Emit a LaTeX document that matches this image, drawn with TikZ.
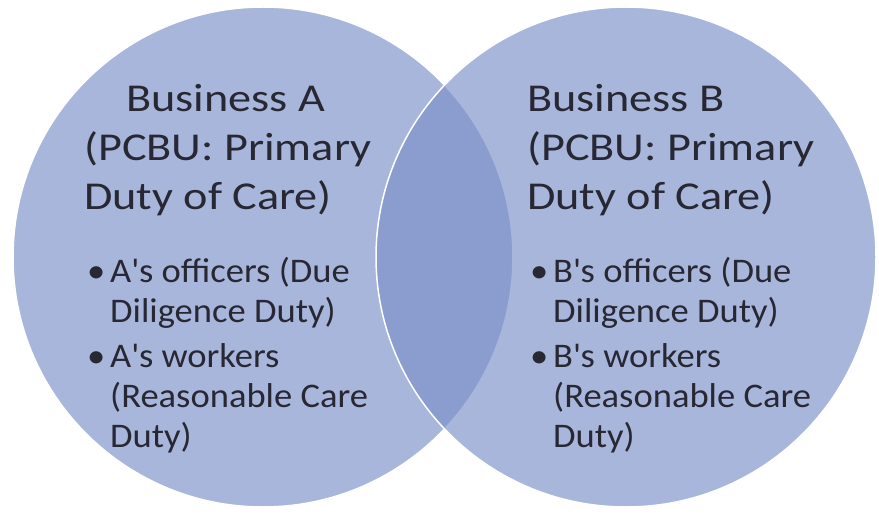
\documentclass[tikz,border=0pt]{standalone}
\usepackage{fontspec}
\setmainfont{Carlito}
\newfontfamily\headfont[FakeStretch=1.17]{Carlito}
\newfontfamily\dutyfont[FakeStretch=1.06]{Carlito}
\usetikzlibrary{positioning}
\definecolor{vennblue}{RGB}{124,143,201}
\definecolor{venntext}{RGB}{40,40,52}
\newcommand{\bul}{\makebox[23pt][l]{\textbullet}}
\newcommand{\ind}{\hspace*{23pt}}

\begin{document}
\begin{tikzpicture}[x=1pt, y=1pt]
    \tikzstyle{venn} = [circle, minimum size=500pt, inner sep=0pt, fill=vennblue, fill opacity=0.65, draw=white, line width=1.5pt]
    \tikzstyle{heading} = [anchor=base west, align=left, inner sep=0pt, text=venntext, font=\headfont\fontsize{39.5}{49.5}\selectfont]
    \tikzstyle{duties} = [anchor=base west, align=left, inner sep=0pt, text=venntext, font=\dutyfont\fontsize{34.5}{40}\selectfont]

    % Canvas
    \fill [white] (0,0) rectangle (879,515);
    \useasboundingbox (0,0) rectangle (879,515);

    % The two businesses
    \node [venn] (busA) at (263,258) {};
    \node [venn] (busB) at (626,258) {};

    % Headings (base sits on the last line)
    \node [heading] (headA) at (84,305) {\hspace*{42pt}Business A\\(PCBU: Primary\\Duty of Care)};
    \node [heading] (headB) at (527,305) {Business B\\(PCBU: Primary\\Duty of Care)};

    % Duties of officers and workers
    \node [duties] (dutyA) at (87,68) {\bul A\textquotesingle s officers (Due\\\ind Diligence Duty)\\[5pt]\bul A\textquotesingle s workers\\\ind (Reasonable Care\\\ind Duty)};
    \node [duties] (dutyB) at (530,68) {\bul B\textquotesingle s officers (Due\\\ind Diligence Duty)\\[5pt]\bul B\textquotesingle s workers\\\ind (Reasonable Care\\\ind Duty)};
\end{tikzpicture}
\end{document}
